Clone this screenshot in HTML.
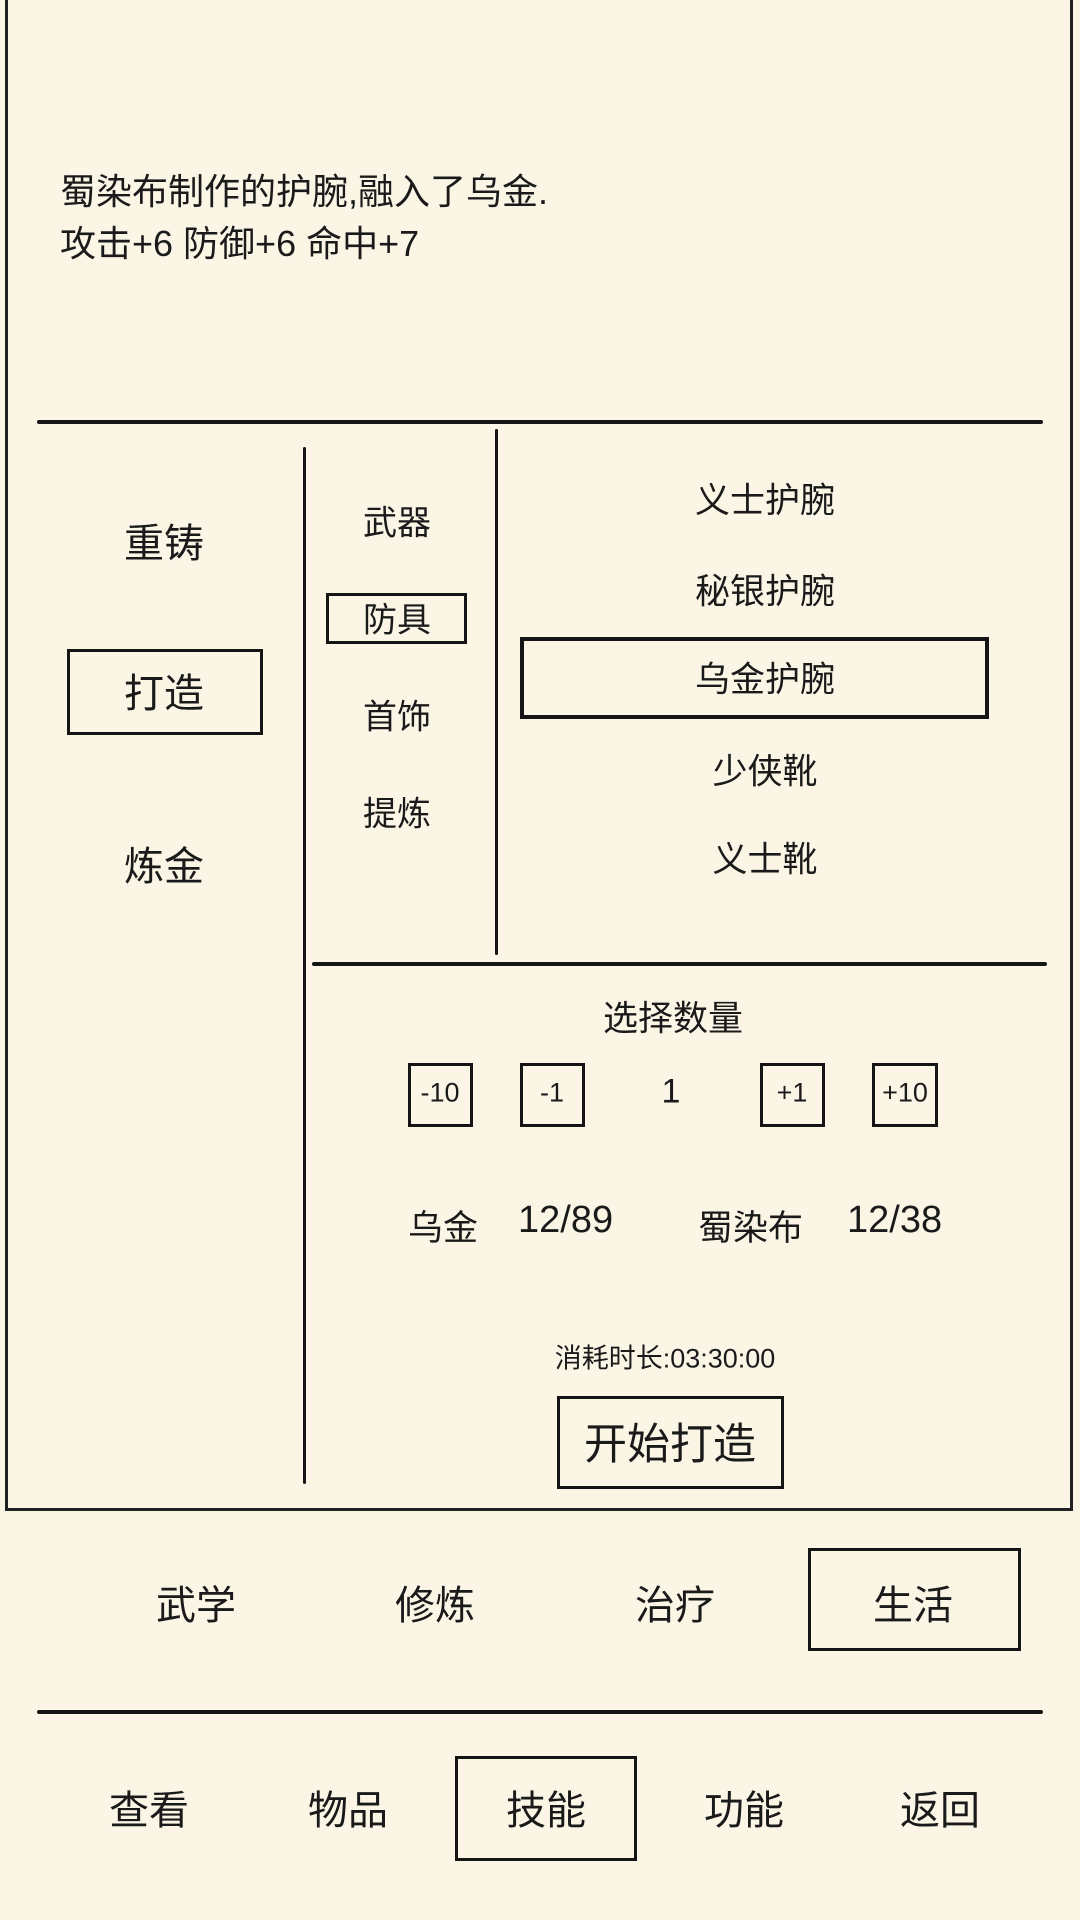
<!DOCTYPE html>
<html><head><meta charset="utf-8"><style>
body{margin:0;width:1080px;height:1920px;background:#fbf5e6;position:relative;overflow:hidden;font-family:"Liberation Sans","Noto Sans CJK SC",sans-serif;color:#1a1a1a}
.a{position:absolute}
.t{position:absolute;transform:translate(-50%,-50%);white-space:nowrap}
.hl{position:absolute;height:4px;background:#151515;border-radius:2px}
.vl{position:absolute;width:3px;background:#151515;border-radius:2px}
.box{position:absolute;border:3px solid #151515;box-sizing:border-box}
</style></head><body>
<div class="a" style="left:5px;top:0;width:1068px;height:1511px;border:3px solid #222;border-top:none;box-sizing:border-box"></div>
<div class="a" style="left:60px;top:166px;font-size:36px;line-height:52px">蜀染布制作的护腕,融入了乌金.<br>攻击+6 防御+6 命中+7</div>
<div class="hl" style="left:37px;top:420px;width:1006px"></div>
<div class="vl" style="left:303px;top:447px;height:1037px"></div>
<div class="vl" style="left:495px;top:429px;height:526px"></div>
<div class="hl" style="left:312px;top:962px;width:735px"></div>

<div class="t" style="left:164px;top:540px;font-size:40px">重铸</div>
<div class="box" style="left:67px;top:649px;width:196px;height:86px"></div>
<div class="t" style="left:164px;top:690px;font-size:40px">打造</div>
<div class="t" style="left:164px;top:863px;font-size:40px">炼金</div>

<div class="t" style="left:397px;top:520px;font-size:34px">武器</div>
<div class="box" style="left:326px;top:593px;width:141px;height:51px"></div>
<div class="t" style="left:397px;top:617px;font-size:34px">防具</div>
<div class="t" style="left:397px;top:714px;font-size:34px">首饰</div>
<div class="t" style="left:397px;top:811px;font-size:34px">提炼</div>

<div class="t" style="left:765px;top:498px;font-size:35px">义士护腕</div>
<div class="t" style="left:765px;top:589px;font-size:35px">秘银护腕</div>
<div class="box" style="left:520px;top:637px;width:469px;height:82px;border-width:4px"></div>
<div class="t" style="left:765px;top:677px;font-size:35px">乌金护腕</div>
<div class="t" style="left:765px;top:769px;font-size:35px">少侠靴</div>
<div class="t" style="left:765px;top:857px;font-size:35px">义士靴</div>

<div class="t" style="left:673px;top:1016px;font-size:35px">选择数量</div>
<div class="box" style="left:408px;top:1063px;width:65px;height:64px"></div><div class="t" style="left:440px;top:1093px;font-size:27px">-10</div>
<div class="box" style="left:520px;top:1063px;width:65px;height:64px"></div><div class="t" style="left:552px;top:1093px;font-size:27px">-1</div>
<div class="t" style="left:671px;top:1092px;font-size:34px">1</div>
<div class="box" style="left:760px;top:1063px;width:65px;height:64px"></div><div class="t" style="left:792px;top:1093px;font-size:27px">+1</div>
<div class="box" style="left:872px;top:1063px;width:66px;height:64px"></div><div class="t" style="left:905px;top:1093px;font-size:27px">+10</div>

<div class="a" style="left:408px;top:1200px;font-size:35px">乌金</div>
<div class="a" style="left:518px;top:1199px;font-size:38px">12/89</div>
<div class="a" style="left:698px;top:1200px;font-size:35px">蜀染布</div>
<div class="a" style="left:847px;top:1199px;font-size:38px">12/38</div>

<div class="t" style="left:665px;top:1356px;font-size:27px">消耗时长:03:30:00</div>
<div class="box" style="left:557px;top:1396px;width:227px;height:93px"></div>
<div class="t" style="left:670px;top:1441px;font-size:43px">开始打造</div>

<div class="t" style="left:196px;top:1602px;font-size:40px">武学</div>
<div class="t" style="left:435px;top:1602px;font-size:40px">修炼</div>
<div class="t" style="left:675px;top:1602px;font-size:40px">治疗</div>
<div class="box" style="left:808px;top:1548px;width:213px;height:103px"></div>
<div class="t" style="left:913px;top:1602px;font-size:40px">生活</div>

<div class="hl" style="left:37px;top:1710px;width:1006px"></div>

<div class="t" style="left:149px;top:1807px;font-size:40px">查看</div>
<div class="t" style="left:348px;top:1807px;font-size:40px">物品</div>
<div class="box" style="left:455px;top:1756px;width:182px;height:105px"></div>
<div class="t" style="left:546px;top:1807px;font-size:40px">技能</div>
<div class="t" style="left:744px;top:1807px;font-size:40px">功能</div>
<div class="t" style="left:940px;top:1807px;font-size:40px">返回</div>
</body></html>
